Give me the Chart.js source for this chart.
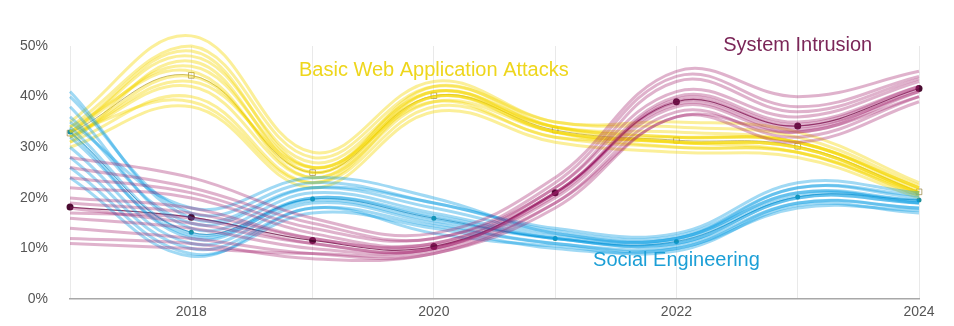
<!DOCTYPE html>
<html>
<head>
<meta charset="utf-8">
<script src="https://cdn.jsdelivr.net/npm/chart.js@4"></script>
<style>
  html, body { margin: 0; padding: 0; background: #fff; }
  #wrap { width: 954px; height: 326px; }
</style>
</head>
<body>
<div id="wrap"><canvas id="chart"></canvas></div>
<script>
const years = ["2017", "2018", "2019", "2020", "2021", "2022", "2023", "2024"];
const shownYears = ["2018", "2020", "2022", "2024"];

// central estimates
const webCentral = [32.8, 44.2, 25.0, 40.2, 33.4, 31.4, 30.2, 21.2];
const intrusionCentral = [18.2, 16.2, 11.6, 10.4, 21.0, 39.0, 34.2, 41.6];
const socialCentral = [33.0, 13.2, 19.8, 16.0, 12.0, 11.4, 20.2, 19.6];

// individual runs
const webRuns = [
  [33, 48, 27, 41, 34, 33, 31, 22],
  [34, 50, 28, 42, 35, 34, 32, 22.5],
  [31, 40, 23, 38, 32, 30, 29, 20.5],
  [32, 42, 24, 39, 33, 31, 30, 21],
  [35, 52, 29, 43, 35, 35, 33, 23],
  [30, 38, 22, 37, 31, 29, 28, 20],
  [33, 46, 26, 40, 34, 32, 31, 21.5],
  [34, 45, 24, 41, 33, 30, 29, 21],
  [32, 43, 26, 39, 32, 32, 31, 22],
  [31, 47, 25, 42, 34, 31, 30, 21],
  [33, 39, 23, 40, 33, 31, 29, 20.5],
  [32, 44, 25, 40, 33, 31, 30, 21],
  [33, 49, 26, 41, 34, 32, 31, 22]
];
const intrusionRuns = [
  [22, 20, 13, 11, 22, 41, 36, 43],
  [26, 22, 15, 12, 23, 44, 38, 44],
  [14, 12, 9, 9, 19, 37, 32, 40],
  [12, 11, 8, 9, 18, 36, 31, 39],
  [20, 18, 12, 11, 21, 40, 35, 42],
  [16, 14, 10, 10, 20, 38, 33, 41],
  [24, 21, 14, 12, 22, 43, 37, 43.5],
  [28, 24, 16, 13, 24, 45, 40, 45],
  [18, 15, 11, 10, 21, 39, 34, 41],
  [11, 10, 9, 9.5, 19, 36, 33, 40],
  [19, 17, 12, 10.5, 20.5, 39.5, 34.5, 42],
  [17, 16, 11, 10, 21, 38.5, 33.5, 41.5]
];
const socialRuns = [
  [41, 16, 22, 18, 13, 12, 22, 20],
  [38, 14, 21, 17, 12.5, 12, 21, 19],
  [30, 11, 19, 15, 11, 10.5, 19, 18],
  [26, 9, 17, 14, 10, 10, 18, 17.5],
  [36, 15, 22, 19, 13.5, 12.5, 22, 20.5],
  [40, 17, 23, 19, 14, 13, 23, 21],
  [28, 10, 18, 14.5, 11, 10, 19, 18],
  [33, 12, 20, 16, 12, 11, 20, 19],
  [24, 8.5, 18, 13, 10.5, 9.5, 18.5, 17],
  [35, 18, 24, 20, 13, 12, 21, 19.5],
  [34, 13, 20, 16.5, 12, 11.5, 20.5, 19.5],
  [32, 12.5, 19.5, 15.5, 12, 11, 20, 19]
];

// series labels placed on the chart: name, year index, value
const labelNames = ["Basic Web Application Attacks", "System Intrusion", "Social Engineering"];
const labelX = [3, 6, 5];
const labelY = [45.2, 50.2, 7.6];
const labelColors = ["#eed61c", "#7b2658", "#1c9fd6"];

function runSets(runs, color) {
  return runs.map(r => ({
    data: r,
    borderColor: color,
    borderWidth: 3,
    pointRadius: 0,
    tension: 0.4,
    clip: false
  }));
}

const datasets = [
  ...runSets(intrusionRuns, "rgba(160, 30, 105, 0.34)"),
  ...runSets(socialRuns, "rgba(5, 155, 225, 0.38)"),
  ...runSets(webRuns, "rgba(244, 214, 0, 0.4)"),
  {
    data: intrusionCentral, borderColor: "rgba(110, 20, 70, 0.8)", borderWidth: 1.2,
    tension: 0.4, pointRadius: 3.5, pointBackgroundColor: "#4a0b30", pointBorderWidth: 0
  },
  {
    data: socialCentral, borderColor: "rgba(0, 110, 160, 0.6)", borderWidth: 1,
    tension: 0.4, pointRadius: 2.5, pointBackgroundColor: "#1f8f9a", pointBorderWidth: 0
  },
  {
    data: webCentral, borderColor: "rgba(150, 130, 40, 0.6)", borderWidth: 1,
    tension: 0.4, pointStyle: "rect", pointRadius: 4, pointBackgroundColor: "rgba(255,255,255,0)",
    pointBorderColor: "rgba(150, 130, 60, 0.7)", pointBorderWidth: 1
  }
];

const seriesLabels = {
  id: "seriesLabels",
  afterDatasetsDraw(chart) {
    const ctx = chart.ctx;
    const x = chart.scales.x, y = chart.scales.y;
    ctx.save();
    ctx.font = "20px 'Liberation Sans', Arial, sans-serif";
    ctx.textAlign = "center";
    ctx.textBaseline = "middle";
    labelNames.forEach((name, i) => {
      ctx.fillStyle = labelColors[i];
      ctx.fillText(name, x.getPixelForValue(labelX[i]), y.getPixelForValue(labelY[i]));
    });
    ctx.restore();
  }
};

new Chart(document.getElementById("chart"), {
  type: "line",
  data: { labels: years, datasets: datasets },
  options: {
    responsive: true,
    maintainAspectRatio: false,
    animation: false,
    layout: { padding: { left: 6, right: 35, top: 46, bottom: 0 } },
    plugins: { legend: { display: false }, tooltip: { enabled: false } },
    scales: {
      x: {
        offset: false,
        grid: { color: "#e9e9e9", lineWidth: 1, drawTicks: false },
        border: { color: "#a8a8a8", width: 1.5 },
        ticks: {
          padding: 5,
          color: "#555",
          font: { family: "'Liberation Sans', Arial, sans-serif", size: 14 },
          maxRotation: 0,
          autoSkip: false,
          callback: function (v, i) {
            const lab = years[i];
            return shownYears.includes(lab) ? lab : "";
          }
        }
      },
      y: {
        min: 0, max: 50,
        grid: { display: false },
        border: { display: false },
        ticks: {
          stepSize: 10,
          padding: 14,
          color: "#555",
          font: { family: "'Liberation Sans', Arial, sans-serif", size: 14 },
          callback: v => v + "%"
        }
      }
    }
  },
  plugins: [seriesLabels]
});
</script>
</body>
</html>
